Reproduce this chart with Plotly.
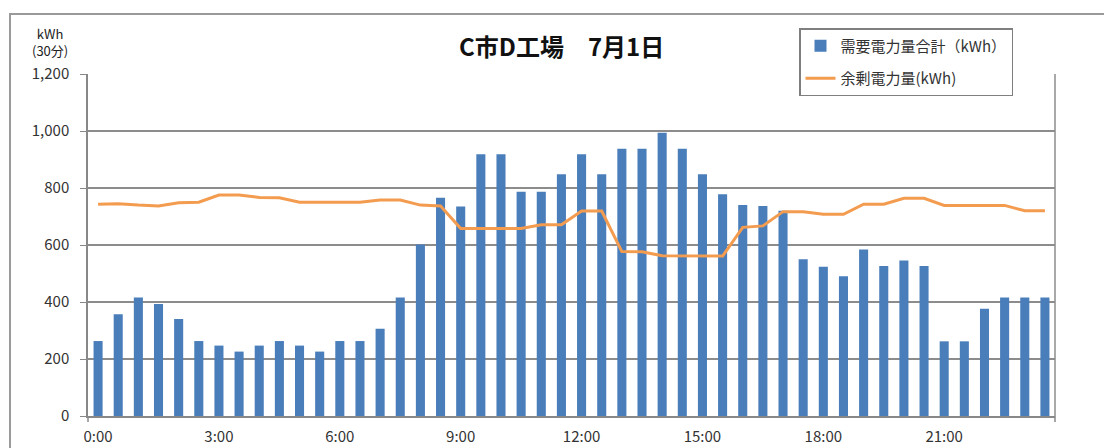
import plotly.graph_objects as go

categories = [f"{h}:{m:02d}" for h in range(24) for m in (0, 30)]

demand_kwh = [263, 357, 416, 393, 340, 263, 247, 226, 247, 263, 247, 226,
              263, 263, 306, 416, 602, 766, 735, 918, 918, 787, 787, 848,
              918, 848, 938, 938, 994, 938, 848, 778, 740, 737, 720, 550,
              524, 490, 584, 526, 546, 526, 262, 262, 376, 416, 416, 416]

surplus_kwh = [743, 745, 740, 737, 748, 750, 775, 775, 767, 766, 750, 750,
               750, 750, 758, 758, 740, 737, 658, 658, 658, 658, 671, 671,
               719, 719, 577, 576, 562, 562, 562, 561, 662, 667, 717, 717,
               708, 708, 743, 743, 764, 764, 739, 739, 739, 739, 720, 720]

y_ticks = [0, 200, 400, 600, 800, 1000, 1200]
x_tick_labels = categories[::6]

FONT = "Noto Sans CJK JP, Noto Sans, sans-serif"

fig = go.Figure()
fig.add_trace(go.Bar(
    x=categories, y=demand_kwh, name="需要電力量合計（kWh）",
    marker=dict(color="#4A7EBB", line=dict(width=0)),
    legendgroup="a",
))
fig.add_trace(go.Scatter(
    x=categories, y=surplus_kwh, name="余剰電力量(kWh)",
    mode="lines", line=dict(color="#F39B4F", width=3),
    legendgroup="b",
))

L, R, T, B = 88, 49, 74, 32
W, H = 1104, 448
pw, ph = W - L - R, H - T - B

def px(xp):
    return (xp - L) / pw

def py(yp):
    return (H - B - yp) / ph

fig.update_layout(
    width=W, height=H,
    margin=dict(l=L, r=R, t=T, b=B, pad=0, autoexpand=False),
    paper_bgcolor="white", plot_bgcolor="white",
    font=dict(family=FONT, color="#333333", size=13),
    bargap=0.55,
    showlegend=True,
    legend=dict(
        x=px(799), y=py(28), xanchor="left", yanchor="top",
        bordercolor="#7f7f7f", borderwidth=1.5, bgcolor="white",
        font=dict(size=15, color="#333333"),
        tracegroupgap=10,
    ),
    xaxis=dict(
        type="category", categoryorder="array", categoryarray=categories,
        tickmode="array", tickvals=x_tick_labels, ticktext=x_tick_labels,
        showgrid=False, showline=True, linecolor="#888888", linewidth=1.5,
        ticks="", ticklabelstandoff=6,
        tickfont=dict(size=15, color="#333333"),
        range=[-0.5, len(categories) - 0.5], fixedrange=True,
        automargin=False,
    ),
    yaxis=dict(
        range=[0, 1200], tickmode="array", tickvals=y_ticks,
        tickformat=",", showgrid=True, gridcolor="#8c8c8c", gridwidth=1.5,
        showline=True, linecolor="#888888", linewidth=1.5,
        ticks="outside", ticklen=6, tickcolor="#888888",
        ticklabelstandoff=8,
        tickfont=dict(size=15, color="#333333"),
        zeroline=False, fixedrange=True, automargin=False,
    ),
    annotations=[
        dict(text="<b>C市D工場　7月1日</b>", x=px(561), y=py(45),
             xref="paper", yref="paper", showarrow=False,
             xanchor="center", yanchor="middle",
             font=dict(size=24, color="#111111", family=FONT)),
        dict(text="kWh<br>(30分)", x=px(50), y=py(42),
             xref="paper", yref="paper", showarrow=False,
             xanchor="center", yanchor="middle", align="center",
             font=dict(size=13, color="#222222", family=FONT)),
    ],
    shapes=[
        dict(type="rect", xref="paper", yref="paper",
             x0=px(10), x1=px(1110), y0=py(460), y1=py(14),
             line=dict(color="#9a9a9a", width=2), layer="below"),
        dict(type="line", xref="paper", yref="paper",
             x0=1, x1=1, y0=0, y1=1,
             line=dict(color="#8c8c8c", width=1.5)),
        dict(type="line", xref="paper", yref="paper",
             x0=0, x1=0, y0=0, y1=py(422),
             line=dict(color="#888888", width=1.5)),
        dict(type="line", xref="paper", yref="paper",
             x0=1, x1=1, y0=0, y1=py(422),
             line=dict(color="#888888", width=1.5)),
    ],
)

fig.write_html(
    "out.html",
    config={"displayModeBar": False},
    post_script="document.body.style.margin='0';document.body.style.overflow='hidden';",
)
